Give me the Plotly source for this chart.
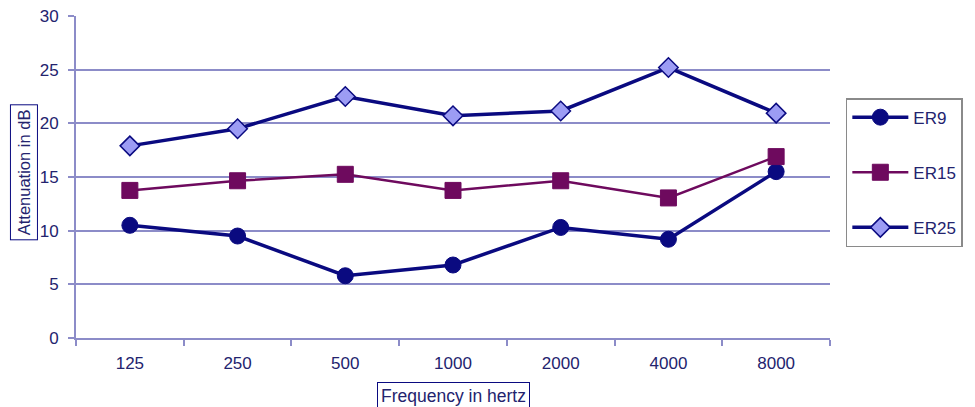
import plotly.graph_objects as go

frequencies = ["125", "250", "500", "1000", "2000", "4000", "8000"]
er9 = [10.5, 9.5, 5.8, 6.8, 10.3, 9.2, 15.5]
er15 = [13.75, 14.65, 15.25, 13.75, 14.65, 13.05, 16.9]
er25 = [17.9, 19.5, 22.5, 20.7, 21.15, 25.2, 20.95]

NAVY = "#0a0a80"
PLUM = "#6e0a5e"
AXIS = "#8c8cc8"
TEXT = "#23236e"

fig = go.Figure()
fig.add_trace(go.Scatter(
    x=frequencies, y=er9, name="ER9", mode="lines+markers", legendgroup="a",
    line=dict(color=NAVY, width=3.5),
    marker=dict(symbol="circle", size=16, color=NAVY, line=dict(color=NAVY, width=1))))
fig.add_trace(go.Scatter(
    x=frequencies, y=er15, name="ER15", mode="lines+markers", legendgroup="b",
    line=dict(color=PLUM, width=2.5),
    marker=dict(symbol="square", size=16, color=PLUM, line=dict(color=PLUM, width=1))))
fig.add_trace(go.Scatter(
    x=frequencies, y=er25, name="ER25", mode="lines+markers", legendgroup="c",
    line=dict(color=NAVY, width=3.5),
    marker=dict(symbol="diamond", size=15, color="#9c9cf4", line=dict(color=NAVY, width=1.5))))

fig.update_layout(
    width=975, height=407,
    margin=dict(l=76, r=143, t=16, b=69),
    paper_bgcolor="white", plot_bgcolor="white",
    font=dict(family="Liberation Sans, Arial, sans-serif", size=17, color=TEXT),
    showlegend=True,
    legend=dict(
        x=1.021, xanchor="left", y=0.745, yanchor="top",
        bordercolor="#8a8a8a", borderwidth=1.5, bgcolor="white",
        font=dict(size=17, color=TEXT),
        traceorder="grouped", tracegroupgap=30,
        itemwidth=56,
    ),
    xaxis=dict(
        type="category", showgrid=False, showline=True, linecolor=AXIS, linewidth=2,
        ticks="outside", ticklen=6, tickcolor=AXIS, tickwidth=1.5, tickson="boundaries",
        tickfont=dict(size=17, color=TEXT), ticklabelstandoff=9,
        range=[-0.5, 6.5], automargin=False,
    ),
    yaxis=dict(
        range=[0, 30], dtick=5, showgrid=True, gridcolor=AXIS, gridwidth=1.5,
        showline=True, linecolor=AXIS, linewidth=2, zeroline=False,
        ticks="outside", ticklen=6, tickcolor=AXIS, tickwidth=1.5,
        tickfont=dict(size=17, color=TEXT), ticklabelstandoff=6, automargin=False,
    ),
    annotations=[
        dict(text="Attenuation in dB", xref="paper", yref="paper", x=-0.0688, y=0.515,
             xanchor="center", yanchor="middle", textangle=-90, showarrow=False,
             font=dict(size=16.5, color=TEXT), bordercolor=NAVY, borderwidth=1,
             borderpad=4, bgcolor="white"),
        dict(text="Frequency in hertz", xref="paper", yref="paper", x=0.5, y=-0.18,
             xanchor="center", yanchor="middle", showarrow=False,
             font=dict(size=17.5, color=TEXT), bordercolor=NAVY, borderwidth=1,
             borderpad=3, bgcolor="white"),
    ],
)

fig.write_html("out.html", config={"displayModeBar": False},
               post_script="document.body.style.margin='0';")
